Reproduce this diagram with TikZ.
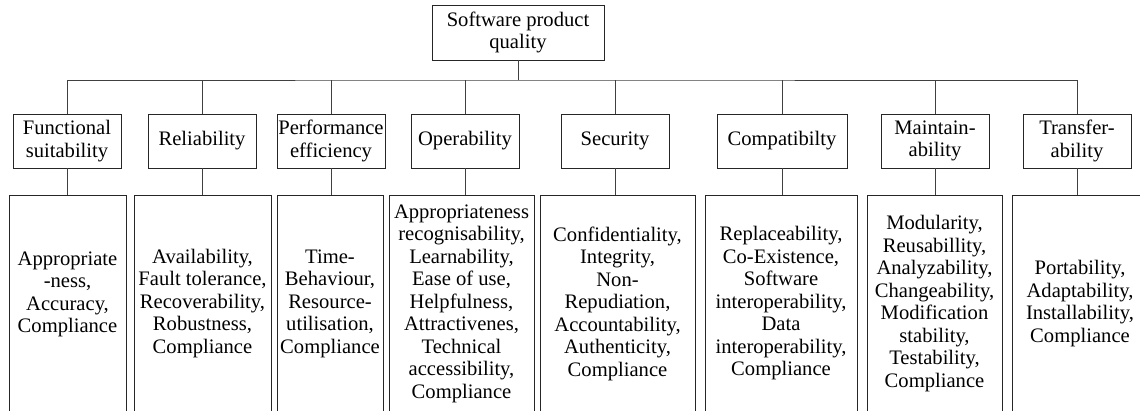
\documentclass[tikz,border=0pt]{standalone}
\usepackage{fontspec}
\setmainfont{Liberation Serif}
\begin{document}
\begin{tikzpicture}[x=1pt,y=-1pt,
  box/.style={draw=black!85,line width=0.9pt,inner sep=0pt,align=center,
    font=\fontsize{20.6}{22.5}\selectfont},
  topbox/.style={box,minimum width=172pt,minimum height=55pt},
  charbox/.style={box,minimum width=108pt,minimum height=54pt},
  subbox/.style={box,anchor=north,minimum height=216pt},
  link/.style={draw=black!75,line width=0.8pt}]
\useasboundingbox (0,0) rectangle (1140,410);
\clip (0,0) rectangle (1140,410);

% root
\node[topbox] (root) at (518,32.5) {Software product\\quality};
\coordinate (bus) at (518,80);

% characteristics
\node[charbox] (fs) at (67,141)  {Functional\\suitability};
\node[charbox] (re) at (202,141) {Reliability};
\node[charbox] (pe) at (331,141) {Performance\\efficiency};
\node[charbox] (op) at (465,141) {Operability};
\node[charbox] (se) at (615,141) {Security};
\node[charbox,minimum width=130pt] (co) at (782,141) {Compatibilty};
\node[charbox] (ma) at (935,141) {Maintain-\\ability};
\node[charbox] (tr) at (1077,141) {Transfer-\\ability};

% sub-characteristics
\node[subbox,minimum width=117pt] (fs3) at (67.5,195)
  {Appropriate\\-ness,\\Accuracy,\\Compliance\\\mbox{}};
\node[subbox,minimum width=137pt] (re3) at (202.5,195)
  {Availability,\\Fault tolerance,\\Recoverability,\\Robustness,\\Compliance};
\node[subbox,minimum width=106pt] (pe3) at (330,195)
  {Time-\\Behaviour,\\Resource-\\utilisation,\\Compliance};
\node[subbox,minimum width=145pt] (op3) at (461.5,195)
  {Appropriateness\\recognisability,\\Learnability,\\Ease of use,\\Helpfulness,\\Attractivenes,\\Technical\\accessibility,\\Compliance};
\node[subbox,minimum width=155pt] (se3) at (617.5,195)
  {Confidentiality,\\Integrity,\\Non-\\Repudiation,\\Accountability,\\Authenticity,\\Compliance};
\node[subbox,minimum width=152pt] (co3) at (781,195)
  {Replaceability,\\Co-Existence,\\Software\\interoperability,\\Data\\interoperability,\\Compliance};
\node[subbox,minimum width=135pt] (ma3) at (934.5,195)
  {Modularity,\\Reusabillity,\\Analyzability,\\Changeability,\\Modification\\stability,\\Testability,\\Compliance};
\node[subbox,minimum width=136pt] (tr3) at (1080,195)
  {Portability,\\Adaptability,\\Installability,\\Compliance};

% tree connectors
\path[link] (root.south) -- (bus);
\path[link] (fs.north) |- (bus) -| (tr.north);
\foreach \n in {re,pe,op,se,co,ma}
  \path[link] (\n.north) -- (\n.north |- bus);
\foreach \n in {fs,re,pe,op,se,co,ma,tr}
  \path[link] (\n.south) -- (\n.south |- \n3.north);
\end{tikzpicture}
\end{document}
